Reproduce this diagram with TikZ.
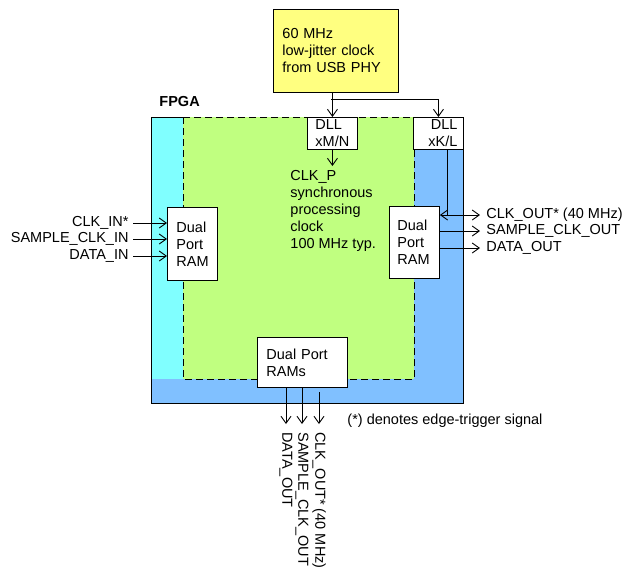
\documentclass[tikz,border=0pt]{standalone}
\usepackage{fontspec}
\setmainfont{Liberation Sans}
\usetikzlibrary{arrows.meta}
\usetikzlibrary{positioning}
\definecolor{clkyellow}{RGB}{255,255,128}
\definecolor{iocyan}{RGB}{128,255,255}
\definecolor{coregreen}{RGB}{192,255,128}
\definecolor{ioblue}{RGB}{128,192,255}
\tikzset{
  blk/.style={draw, fill=white, anchor=north west, inner sep=0pt, align=left},
  sig/.style={->},
  inlbl/.style={anchor=east, inner xsep=4pt, inner ysep=0pt},
  outlbl/.style={anchor=west, inner xsep=6pt, inner ysep=0pt},
  downlbl/.style={rotate=-90, anchor=west, inner xsep=8pt, inner ysep=0pt},
  regionedge/.style={dash pattern=on 7pt off 4pt},
}
\begin{document}
\begin{tikzpicture}[x=1pt,y=-1pt,line width=0.9pt,
    >={Straight Barb[length=7pt,width=10pt]},
    font=\fontsize{14.5}{17}\selectfont]
    \useasboundingbox (0,0) rectangle (634,566);

    % FPGA regions
    \fill[ioblue] (151,117) rectangle (463,403);
    \fill[iocyan] (151,117) rectangle (183,379);
    \fill[coregreen] (183,117) rectangle (414,379);
    \draw[regionedge] (183,117) rectangle (414,379);
    \draw (183,117) -- (151,117) -- (151,403) -- (463,403) -- (463,117);
    \node[anchor=west, inner sep=0pt, font=\fontsize{14.5}{17}\selectfont\bfseries] (fpga) at (159,102) {FPGA};

    % clock source and DLLs
    \node[blk, fill=clkyellow, minimum width=125pt, minimum height=83pt, text width=107pt] (clk) at (273,9) {60 MHz\\low-jitter clock\\from USB PHY};
    \node[blk, minimum width=50pt, minimum height=32pt, text width=34pt] (dll1) at (307,117) {DLL\\xM/N};
    \node[blk, minimum width=50pt, minimum height=32pt, text width=38pt, align=right] (dll2) at (413,117) {DLL\\xK/L};
    \coordinate (split) at (331,99);
    \draw[sig] (clk.south -| dll1.north) -- (dll1.north);
    \draw[sig] (split) -| (dll2.north);

    \node[anchor=north west, inner xsep=0pt, inner ysep=4pt, align=left] (clkp) at (290,166) {CLK\_P\\synchronous\\processing\\clock\\100 MHz typ.};
    \draw[sig] (dll1.south) -- (dll1.south |- clkp.north);

    % RAMs
    \node[blk, minimum width=50pt, minimum height=73pt, text width=32pt] (lram) at (167,207) {Dual\\Port\\RAM};
    \node[blk, minimum width=50pt, minimum height=72pt, text width=34pt] (rram) at (389,206) {Dual\\Port\\RAM};
    \node[blk, minimum width=90pt, minimum height=50pt, text width=72pt] (bram) at (257,337) {Dual Port\\RAMs};

    % inputs
    \node[inlbl] (clkin) at (133,223) {CLK\_IN*};
    \node[inlbl] (smpin) at (133,239) {SAMPLE\_CLK\_IN};
    \node[inlbl] (datin) at (133,256) {DATA\_IN};
    \draw[sig] (clkin.east) -- (clkin.east -| lram.west);
    \draw[sig] (smpin.east) -- (smpin.east -| lram.west);
    \draw[sig] (datin.east) -- (datin.east -| lram.west);

    % outputs, right
    \coordinate (ktap) at (447,215);
    \node[outlbl] (clkout) at (480,215) {CLK\_OUT* (40 MHz)};
    \node[outlbl] (smpout) at (480,231) {SAMPLE\_CLK\_OUT};
    \node[outlbl] (datout) at (480,248) {DATA\_OUT};
    \draw (dll2.south -| ktap) -- (ktap);
    \draw[<->] (ktap -| rram.east) -- (clkout.west);
    \draw[sig] (smpout.west -| rram.east) -- (smpout.west);
    \draw[sig] (datout.west -| rram.east) -- (datout.west);

    % outputs, bottom
    \node[downlbl] (dout) at (286,424) {DATA\_OUT};
    \node[downlbl] (sout) at (302,424) {SAMPLE\_CLK\_OUT};
    \node[downlbl] (cout) at (319,424) {CLK\_OUT* (40 MHz)};
    \coordinate (ctap) at (319,392);
    \draw[sig] (bram.south -| dout.west) -- (dout.west);
    \draw[sig] (bram.south -| sout.west) -- (sout.west);
    \draw[sig] (ctap) -- (cout.west);

    \node[anchor=west, inner sep=0pt] (note) at (347,421) {(*) denotes edge-trigger signal};
\end{tikzpicture}
\end{document}
